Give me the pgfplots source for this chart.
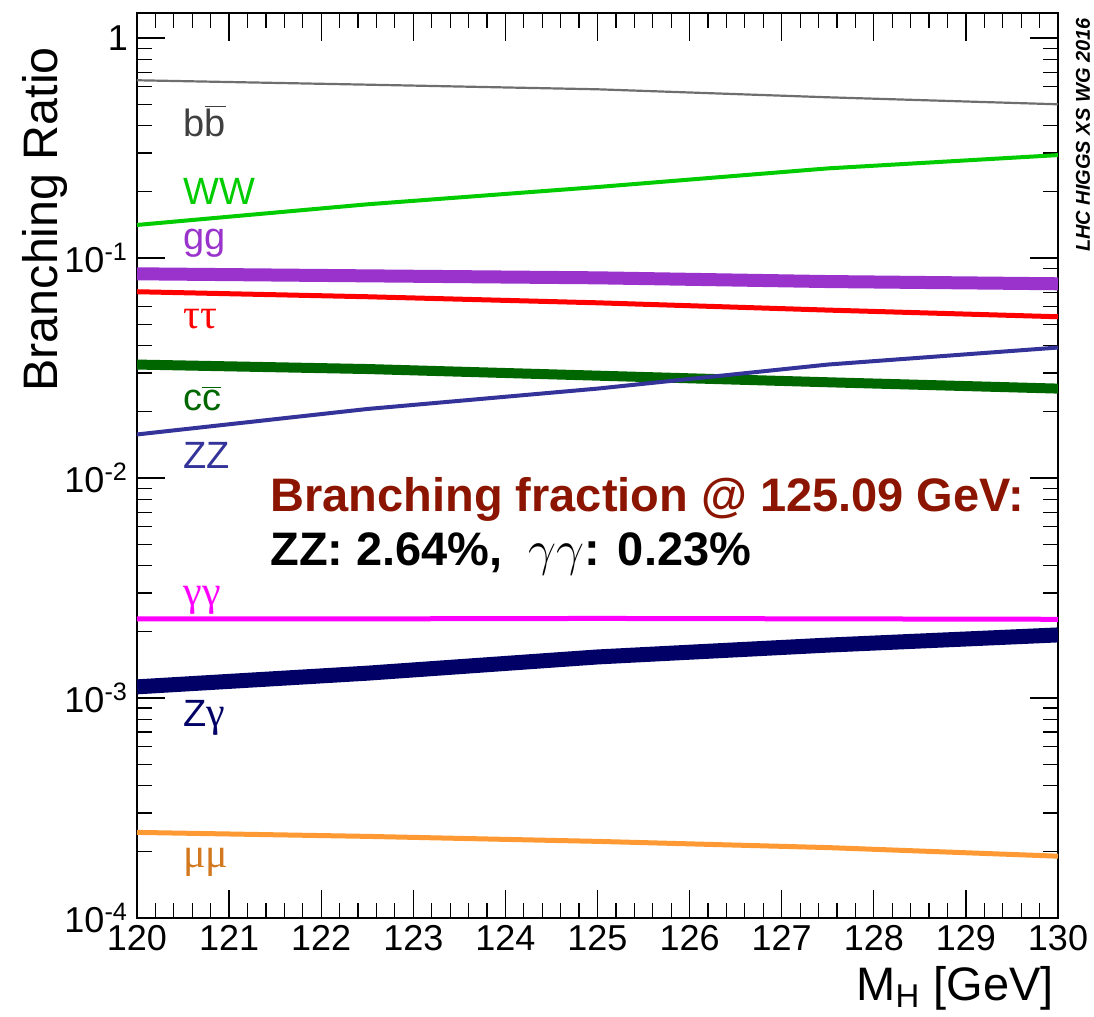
\documentclass[border=0pt]{standalone}
\usepackage{fontspec}
\setmainfont{Liberation Sans}
\newfontfamily\grk{Liberation Serif}
\usepackage{pgfplots}
\pgfplotsset{compat=1.18}
\usetikzlibrary{calc}
\definecolor{cbb}{RGB}{110,110,110}
\definecolor{cbbt}{RGB}{64,64,64}
\definecolor{cww}{RGB}{0,204,0}
\definecolor{cgg}{RGB}{153,51,204}
\definecolor{ctt}{RGB}{255,0,0}
\definecolor{ccc}{RGB}{0,102,0}
\definecolor{czz}{RGB}{51,51,153}
\definecolor{caa}{RGB}{255,0,255}
\definecolor{cza}{RGB}{0,0,102}
\definecolor{cmm}{RGB}{255,153,51}
\definecolor{cmmt}{RGB}{210,120,30}
\definecolor{annot}{RGB}{139,21,0}
\begin{document}
\begin{tikzpicture}
\begin{axis}[name=ax, scale only axis, width=460.5pt, height=452.5pt,
  ymode=log, xmin=120, xmax=130, ymin=1e-4, ymax=1.3,
  xtick={120,121,...,130}, minor x tick num=4,
  yticklabel={\pgfmathparse{int(round(\tick/ln(10)))}\ifnum\pgfmathresult=0 1\else 10\textsuperscript{\pgfmathresult}\fi},
  major tick length=14pt, minor tick length=7.5pt,
  axis line style={line width=1pt},
  every tick/.style={black, line width=0.6pt},
  tick label style={font=\fontsize{18}{20}\selectfont},
  /pgf/number format/assume math mode=true,
  /pgf/number format/1000 sep={},
  yticklabel style={xshift=-1pt},
  xlabel={M\textsubscript{H} [GeV]}, ylabel={Branching Ratio},
  xlabel style={font=\fontsize{23.5}{26}\selectfont, at={(axis description cs:1.003,-0.0906)}, anchor=base east},
  ylabel style={font=\fontsize{24.2}{27}\selectfont, at={(axis description cs:-0.0999,0.9702)}, anchor=east},
  no markers, clip=true,
]
\addplot[cbb, line width=1.1pt] coordinates {(120,0.643) (122.5,0.614) (125,0.585) (127.5,0.538) (130,0.500)};
\addplot[cww, line width=2pt] coordinates {(120,0.1414) (122.5,0.1755) (125,0.2103) (127.5,0.2556) (130,0.2938)};
\addplot[cgg, line width=6.5pt] coordinates {(120,0.0848) (122.5,0.0830) (125,0.0813) (127.5,0.0782) (130,0.0764)};
\addplot[ctt, line width=2.5pt] coordinates {(120,0.0703) (122.5,0.0667) (125,0.0626) (127.5,0.0580) (130,0.0541)};
\addplot[ccc, line width=5pt] coordinates {(120,0.0328) (122.5,0.0313) (125,0.0292) (127.5,0.02725) (130,0.0255)};
\addplot[czz, line width=2pt] coordinates {(120,0.01578) (122.5,0.0206) (125,0.0255) (127.5,0.0328) (130,0.0392)};
\addplot[caa, line width=2.5pt] coordinates {(120,0.00229) (122.5,0.00229) (125,0.0023) (127.5,0.00229) (130,0.00228)};
\addplot[cza, line width=7.5pt] coordinates {(120,0.001124) (122.5,0.001297) (125,0.001537) (127.5,0.00174) (130,0.001936)};
\addplot[cmm, line width=2.5pt] coordinates {(120,0.000245) (122.5,0.000235) (125,0.000223) (127.5,0.000209) (130,0.000191)};

\begin{scope}[every node/.style={anchor=west, inner sep=0pt, font=\fontsize{19}{21}\selectfont}]
\node[text=cbbt] at (axis cs:120.5,0.419) {b\(\overline{\mbox{b}}\)};
\node[text=cww] at (axis cs:120.5,0.2017) {WW};
\node[text=cgg] at (axis cs:120.5,0.1172) {gg};
\node[text=ctt] at (axis cs:120.5,0.053) {{\grk\fontsize{21}{23}\selectfont ττ}};
\node[text=ccc] at (axis cs:120.5,0.02298) {c\(\overline{\mbox{c}}\)};
\node[text=czz] at (axis cs:120.5,0.01268) {ZZ};
\node[text=caa] at (axis cs:120.5,0.002786) {{\grk\fontsize{21}{23}\selectfont γγ}};
\node[text=cza] at (axis cs:120.5,0.000813) {Z{\grk\fontsize{21}{23}\selectfont γ}};
\node[text=cmmt] at (axis cs:120.5,0.0001786) {{\grk\fontsize{21}{23}\selectfont μμ}};
\end{scope}

\node[anchor=base west, inner sep=0pt, text=annot, font=\bfseries\fontsize{23.5}{28}\selectfont] at (axis cs:121.444,0.00706) {Branching fraction @ 125.09 GeV:};
\node[anchor=base west, inner sep=0pt, text=black, font=\bfseries\fontsize{23.5}{28}\selectfont] at (axis cs:121.444,0.00402) {ZZ: 2.64\%,\ \ \(\gamma\gamma\): 0.23\%};
\end{axis}
\node[rotate=90, anchor=east, inner sep=0pt, font=\bfseries\itshape\fontsize{10}{12}\selectfont] at ($(ax.north east)+(12.5pt,-2.5pt)$) {LHC HIGGS XS WG 2016};
\pgfresetboundingbox
\path[use as bounding box] ($(ax.south west)+(-68.5pt,-49.5pt)$) rectangle ($(ax.north east)+(18pt,6.5pt)$);
\end{tikzpicture}
\end{document}
